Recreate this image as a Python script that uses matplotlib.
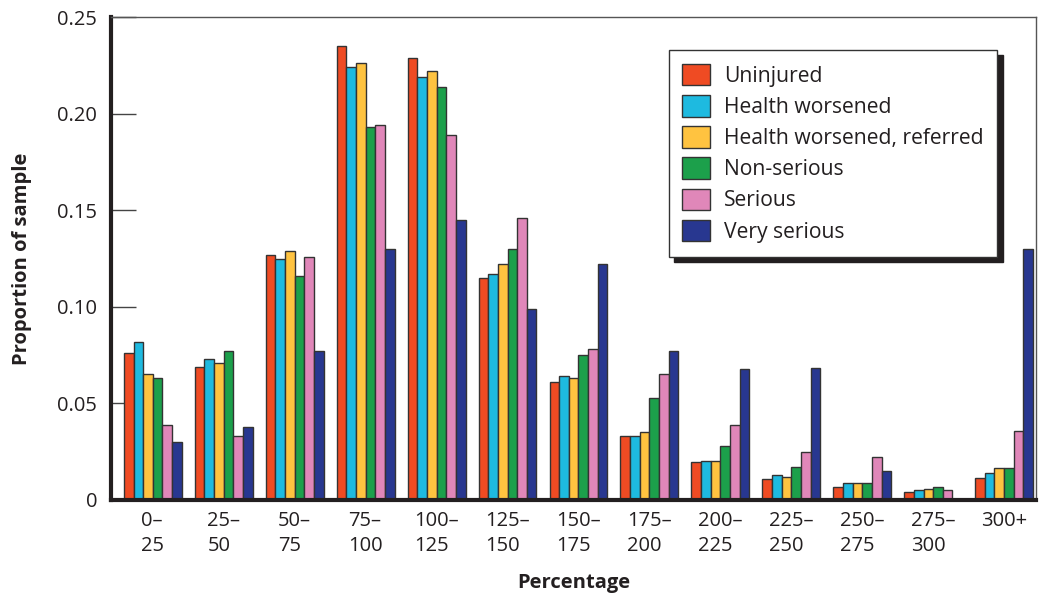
import numpy as np
import matplotlib
matplotlib.use("Agg")
import matplotlib.pyplot as plt

# --- DATA ---

bins = ["0–\n25", "25–\n50", "50–\n75", "75–\n100", "100–\n125", "125–\n150",
        "150–\n175", "175–\n200", "200–\n225", "225–\n250", "250–\n275",
        "275–\n300", "300+"]

series_names = ["Uninjured", "Health worsened", "Health worsened, referred",
                "Non-serious", "Serious", "Very serious"]

uninjured = [0.076, 0.069, 0.127, 0.235, 0.229, 0.115, 0.061, 0.033, 0.0195, 0.011, 0.0066, 0.004, 0.0112]
health_worsened = [0.082, 0.073, 0.125, 0.224, 0.219, 0.117, 0.064, 0.033, 0.020, 0.013, 0.0086, 0.005, 0.014]
health_referred = [0.065, 0.071, 0.129, 0.226, 0.222, 0.122, 0.063, 0.035, 0.020, 0.012, 0.0086, 0.0059, 0.0166]
non_serious = [0.063, 0.077, 0.116, 0.193, 0.214, 0.130, 0.075, 0.053, 0.028, 0.017, 0.0086, 0.0067, 0.0166]
serious = [0.039, 0.033, 0.126, 0.194, 0.189, 0.146, 0.078, 0.065, 0.039, 0.025, 0.0221, 0.005, 0.0357]
very_serious = [0.030, 0.038, 0.077, 0.130, 0.145, 0.099, 0.122, 0.077, 0.068, 0.0685, 0.015, 0.0, 0.130]

yticks = [0, 0.05, 0.10, 0.15, 0.20, 0.25]
ytick_labels = ["0", "0.05", "0.10", "0.15", "0.20", "0.25"]

colors = ["#EF4B23", "#1EBAE0", "#FFC340", "#1CA04B", "#E087B9", "#283790"]

# --- PLOT ---

plt.rcParams['font.family'] = ['Open Sans', 'DejaVu Sans']
text_col = "#231F20"

all_series = [uninjured, health_worsened, health_referred, non_serious, serious, very_serious]

fig = plt.figure(figsize=(10.4, 5.97), dpi=100)
ax = fig.add_axes([0.1067, 0.1625, 0.8895, 0.809])

x = np.arange(len(bins))
n = len(all_series)
width = 0.136
for i, (vals, name, c) in enumerate(zip(all_series, series_names, colors)):
    offs = (i - (n - 1) / 2) * width
    ax.bar(x + offs, vals, width, color=c, edgecolor="#333333", linewidth=1,
           label=name, zorder=2)

ax.set_xlim(-0.59, 12.45)
ax.set_ylim(0, 0.25)

ax.set_yticks(yticks)
ax.set_yticklabels(ytick_labels)
ax.set_xticks(x)
ax.set_xticklabels(bins, multialignment="left", linespacing=1.33)

ax.tick_params(axis="y", direction="in", length=18, width=1, color="#444444",
               labelsize=14.5, labelcolor=text_col, pad=10)
ax.tick_params(axis="x", length=0, labelsize=14.5, labelcolor=text_col, pad=8)

for side in ["left", "bottom"]:
    ax.spines[side].set_linewidth(3)
    ax.spines[side].set_color(text_col)
for side in ["top", "right"]:
    ax.spines[side].set_linewidth(1)
    ax.spines[side].set_color("#555555")

ax.set_xlabel("Percentage", fontsize=14.5, fontweight="bold", color=text_col, labelpad=12)
ax.set_ylabel("Proportion of sample", fontsize=14.5, fontweight="bold", color=text_col, labelpad=18)

leg = ax.legend(loc="upper right", bbox_to_anchor=(0.958, 0.932), borderaxespad=0,
                fontsize=15.2, frameon=True, fancybox=False,
                shadow={"color": "#231F20", "alpha": 1, "ox": 4, "oy": -4},
                handlelength=1.3, handleheight=1.2, handletextpad=0.65,
                labelspacing=0.39, borderpad=0.66)
leg.get_frame().set_edgecolor("#333333")
leg.get_frame().set_linewidth(1)
leg.get_frame().set_alpha(1)
for t in leg.get_texts():
    t.set_color(text_col)

fig.savefig("out.png", dpi=100)
